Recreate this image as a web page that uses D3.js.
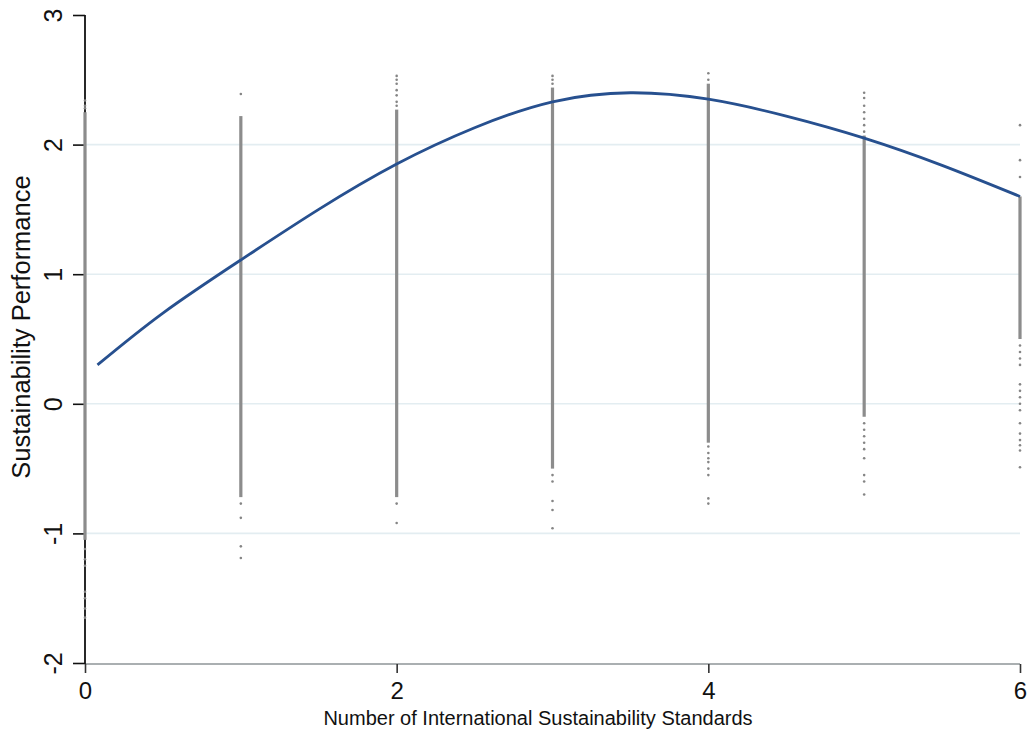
<!DOCTYPE html>
<html>
<head>
<meta charset="utf-8">
<script src="https://cdn.jsdelivr.net/npm/d3@7"></script>
<style>
  body { margin: 0; background: #fff; }
  text { font-family: "Liberation Sans", Arial, sans-serif; fill: #111; }
</style>
</head>
<body>
<svg id="chart" width="1035" height="736"></svg>
<script>
// number of standards (x) and the fitted curve
var fitX = [0.08, 0.5, 1, 1.5, 2, 2.5, 3, 3.5, 4, 4.5, 5, 5.5, 6];
var fitY = [0.30, 0.70, 1.11, 1.50, 1.85, 2.13, 2.33, 2.40, 2.35, 2.22, 2.05, 1.84, 1.60];

// dense runs of observations per column: [x, top, bottom]
var denseRuns = [
  [0, 2.25, -1.05],
  [1, 2.22, -0.72],
  [2, 2.27, -0.72],
  [3, 2.44, -0.50],
  [4, 2.47, -0.30],
  [5, 2.07, -0.10],
  [6, 1.60, 0.50]
];

// scattered single observations outside the dense runs
var sparse0 = [2.34, 2.30, 2.28, -1.12, -1.20, -1.25, -1.45, -1.50, -1.58, -1.65];
var sparse1 = [2.39, -0.77, -0.88, -1.10, -1.19];
var sparse2 = [2.53, 2.50, 2.47, 2.42, 2.38, 2.33, 2.30, -0.77, -0.92];
var sparse3 = [2.53, 2.50, 2.47, -0.55, -0.60, -0.75, -0.82, -0.96];
var sparse4 = [2.55, 2.50, -0.33, -0.38, -0.42, -0.45, -0.50, -0.55, -0.73, -0.77];
var sparse5 = [2.40, 2.36, 2.30, 2.25, 2.20, 2.15, 2.10, -0.15, -0.20, -0.25, -0.30, -0.35, -0.42, -0.55, -0.60, -0.70];
var sparse6 = [2.15, 1.88, 1.75, 0.45, 0.40, 0.35, 0.30, 0.15, 0.10, 0.05, 0.00, -0.05, -0.15, -0.23, -0.28, -0.32, -0.36, -0.49];

var xTicks = [0, 2, 4, 6];
var yTicks = [-2, -1, 0, 1, 2, 3];
var gridVals = [-1, 0, 1, 2];

var svg = d3.select("#chart");
var plotL = 85, plotR = 1020, plotT = 15, plotB = 663;

var x = d3.scaleLinear().domain([0, 6]).range([plotL, plotR]);
var y = d3.scaleLinear().domain([-2, 3]).range([plotB, plotT]);
var plain = function(d) { return String(d); };  // hyphen minus like the original

// gridlines
svg.selectAll(".grid")
  .data(gridVals)
  .enter()
  .append("line")
    .attr("x1", plotL).attr("x2", plotR)
    .attr("y1", function(d) { return y(d); })
    .attr("y2", function(d) { return y(d); })
    .style("stroke", "#e3edf1")
    .style("stroke-width", 1.6);

// x axis line (gray, plot region border)
svg.append("line")
  .attr("x1", plotL).attr("x2", plotR)
  .attr("y1", plotB + 1).attr("y2", plotB + 1)
  .style("stroke", "#8e9497")
  .style("stroke-width", 1.6);

// y axis
var yAxis = svg.append("g")
  .attr("transform", "translate(" + plotL + ",0)")
  .call(d3.axisLeft(y).tickValues(yTicks).tickSize(12).tickFormat(plain));
yAxis.select(".domain").attr("d", "M0," + plotT + "V" + (plotB + 1))
  .style("stroke", "#111").style("stroke-width", 1.8);
yAxis.selectAll(".tick line").style("stroke", "#111").style("stroke-width", 1.6);
yAxis.selectAll(".tick text")
  .attr("x", 0).attr("dy", 0)
  .attr("transform", "translate(-23,0) rotate(-90)")
  .attr("text-anchor", "middle")
  .style("font-size", "25px");

// x axis ticks
var xAxis = svg.append("g")
  .attr("transform", "translate(0," + (plotB + 1) + ")")
  .call(d3.axisBottom(x).tickValues(xTicks).tickSize(9).tickFormat(plain));
xAxis.select(".domain").remove();
xAxis.selectAll(".tick line").style("stroke", "#333").style("stroke-width", 1.6);
xAxis.selectAll(".tick text")
  .attr("y", 18).attr("dy", "0.71em")
  .style("font-size", "24px");

// dense runs
svg.selectAll(".run")
  .data(denseRuns)
  .enter()
  .append("rect")
    .attr("x", function(d) { return x(d[0]) - 1.6; })
    .attr("y", function(d) { return y(d[1]); })
    .attr("width", 3.2)
    .attr("height", function(d) { return y(d[2]) - y(d[1]); })
    .style("fill", "#8c8c8c");

// scattered points
var sparse = [sparse0, sparse1, sparse2, sparse3, sparse4, sparse5, sparse6];
sparse.forEach(function(col, i) {
  svg.selectAll(".pt" + i)
    .data(col)
    .enter()
    .append("circle")
      .attr("cx", x(i))
      .attr("cy", function(d) { return y(d); })
      .attr("r", 1.3)
      .style("fill", "#858585");
});

// fitted curve
var fit = fitX.map(function(v, i) { return [v, fitY[i]]; });
svg.append("path")
  .datum(fit)
  .attr("d", d3.line()
    .x(function(d) { return x(d[0]); })
    .y(function(d) { return y(d[1]); })
    .curve(d3.curveNatural))
  .style("fill", "none")
  .style("stroke", "#27508f")
  .style("stroke-width", 2.8);

// titles
svg.append("text")
  .attr("x", 538)
  .attr("y", 725)
  .attr("text-anchor", "middle")
  .style("font-size", "20px")
  .text("Number of International Sustainability Standards");

svg.append("text")
  .attr("transform", "translate(30,327) rotate(-90)")
  .attr("text-anchor", "middle")
  .style("font-size", "25.5px")
  .text("Sustainability Performance");
</script>
</body>
</html>
